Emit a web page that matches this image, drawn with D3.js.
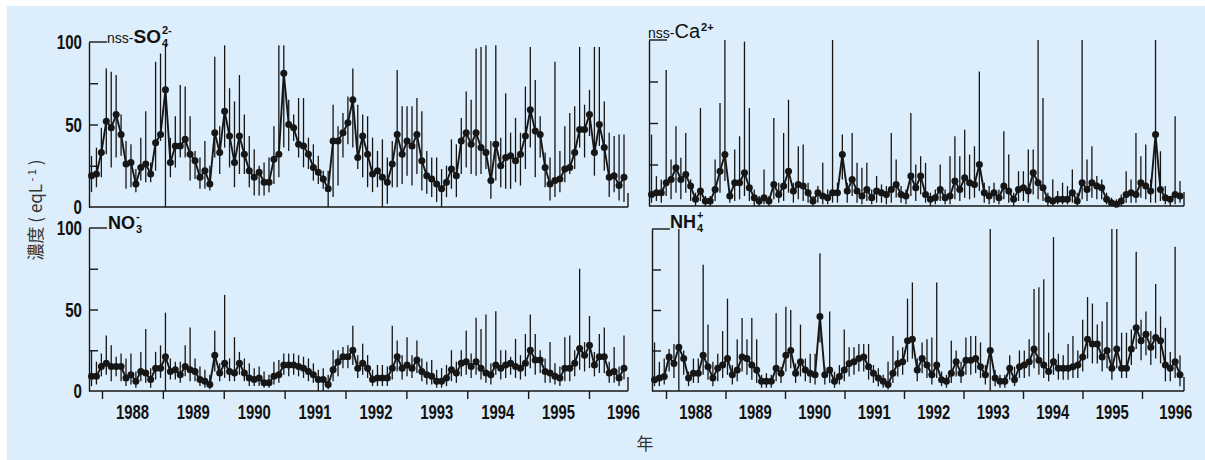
<!DOCTYPE html>
<html>
<head>
<meta charset="utf-8">
<script src="https://cdn.jsdelivr.net/npm/d3@7"></script>
<style>
  body { margin: 0; background: #fff; }
  .num { font-family: "Liberation Sans", Arial, sans-serif; font-weight: bold; fill: #111; }
  .ttl { font-family: "Liberation Sans", Arial, sans-serif; fill: #111; }
</style>
</head>
<body>
<svg id="chart" width="1205" height="460"></svg>
<script>
// year ticks and y ticks
const years = [1988, 1989, 1990, 1991, 1992, 1993, 1994, 1995, 1996]
const yTicks = [25, 50, 75]
const yLabels = [0, 50, 100]

// nss-SO4 2- : monthly mean, max, min
const so4Mean = [19,20,33,52,48,56,44,26,27,14, 24,26,20,39,44,71,27,37,37,41,
  32,28,18,22,14,45,33,58,43,27, 43,32,22,18,21,15,15,29,32,81,
  50,48,38,37,32,24,21,17,11,40, 40,45,51,65,30,43,32,20,22,18,
  15,26,44,32,40,37,44,28,19,17, 14,11,15,23,19,40,45,38,45,36,
  33,16,38,25,30,31,28,32,43,59, 46,44,24,14,16,17,23,24,33,47,
  47,56,33,50,36,18,19,13,18]
const so4Max = [31,36,48,84,82,80,56,40,38,23, 42,58,27,88,93,99,42,55,74,73,
  55,34,30,40,25,91,49,98,72,64, 80,56,43,35,25,27,30,49,98,98,
  65,56,66,66,42,38,31,22,22,62, 49,57,67,84,62,56,55,42,34,41,
  30,40,83,61,61,61,66,58,34,30, 30,23,25,41,38,54,70,65,96,97,
  98,40,98,42,69,45,54,45,73,97, 77,55,33,30,88,34,49,57,61,97,
  62,71,97,97,64,45,43,44,44]
const so4Min = [9,12,18,32,24,30,31,11,12,9, 16,15,15,22,40,0,18,24,30,30,
  16,17,11,11,10,30,20,36,24,12, 20,20,12,7,7,7,9,14,18,36,
  34,40,30,24,23,16,14,11,0,6, 13,30,38,36,23,18,12,9,12,0,
  2,12,12,14,19,13,20,10,8,6, 3,0,6,11,6,20,24,20,19,20,
  23,5,16,12,11,11,15,13,23,36, 18,30,12,4,6,9,15,20,23,36,
  30,43,19,37,22,6,9,4,3]

// nss-Ca 2+
const caMean = [7,8,8,14,16,23,16,19,12,4, 9,3,3,10,21,31,6,14,14,20,
  11,5,3,5,3,13,7,12,21,9, 13,12,8,3,8,6,5,8,8,31,
  9,16,9,6,10,5,9,8,7,10, 13,7,6,18,11,18,7,4,5,10,
  5,6,15,10,17,14,13,25,8,6, 8,5,12,9,4,10,11,9,20,14,
  11,4,3,4,4,4,8,3,14,10, 14,12,11,4,2,1,3,7,8,7,
  14,12,9,43,10,5,4,7,6]
const caMax = [43,18,16,82,28,48,29,44,16,8, 59,6,6,28,62,100,10,34,42,99,
  59,10,6,22,6,53,14,44,64,14, 36,37,14,6,12,26,10,100,14,43,
  14,44,26,23,26,10,18,13,12,44, 28,12,10,56,25,30,26,8,10,25,
  10,30,42,30,46,31,36,81,14,12, 14,10,45,31,8,21,21,34,34,100,
  65,8,16,9,14,12,22,8,100,28, 36,18,16,8,5,4,7,21,16,44,
  30,37,16,100,33,12,6,54,15]
const caMin = [2,3,2,6,4,8,4,8,3,0, 3,0,0,3,8,15,2,3,4,6,
  3,0,0,1,0,4,2,3,8,2, 4,3,2,0,2,1,1,2,2,16,
  2,6,2,1,3,1,2,2,1,2, 5,2,1,6,3,7,2,0,1,3,
  1,1,4,3,5,4,5,9,2,1, 2,1,4,2,0,3,3,2,7,4,
  3,0,0,1,1,1,2,0,4,3, 5,4,4,1,0,0,0,2,2,2,
  5,4,2,2,3,1,0,1,2]

// NO3 -
const no3Mean = [9,9,15,17,15,15,15,8,10,6, 12,11,7,14,14,21,12,13,10,15,
  13,12,7,6,4,22,11,17,12,11, 17,11,8,7,8,5,5,9,10,16,
  16,16,15,14,12,10,7,7,4,13, 18,21,21,25,14,17,14,7,8,8,
  8,14,21,14,16,14,19,12,10,9, 6,6,8,13,11,17,18,15,18,14,
  11,10,16,14,16,17,15,14,17,25, 19,19,12,11,9,8,14,14,17,26,
  22,28,16,21,21,11,12,8,14]
const no3Max = [25,18,23,34,28,21,23,20,23,12, 24,38,14,24,28,48,20,18,18,28,
  39,20,15,13,10,37,17,59,20,33, 24,20,17,14,15,12,10,18,19,23,
  23,23,22,21,20,17,13,14,10,25, 25,27,28,40,22,29,22,13,16,16,
  15,40,31,22,33,22,31,20,18,19, 13,14,16,25,18,25,37,23,45,38,
  47,17,49,25,25,21,32,22,35,47, 35,25,20,30,17,15,33,34,25,75,
  30,46,24,35,39,18,27,15,34]
const no3Min = [3,4,9,10,6,9,6,3,4,2, 6,5,2,7,8,0,7,7,5,9,
  6,6,3,2,1,12,6,8,6,6, 10,6,3,3,3,2,2,4,5,10,
  9,10,9,8,6,5,0,0,1,6, 9,14,14,16,8,10,8,3,3,3,
  3,7,12,7,9,8,11,6,4,4, 2,2,3,6,5,9,10,8,10,7,
  5,4,10,7,8,10,8,7,9,14, 10,11,5,5,4,3,6,6,9,13,
  12,14,9,11,11,5,5,3,7]

// NH4 +
const nh4Mean = [7,8,9,21,17,27,20,8,11,11, 22,15,8,14,16,20,10,13,21,20,
  16,13,6,6,6,14,11,22,25,11, 18,13,11,10,46,10,13,6,9,13,
  17,18,20,21,15,11,8,6,4,11, 17,18,31,32,13,20,16,10,16,7,
  6,11,18,11,19,19,20,15,10,25, 8,6,6,14,7,15,16,18,26,19,
  16,12,18,14,14,14,15,16,21,32, 29,29,21,25,14,26,14,14,26,39,
  31,35,27,33,31,16,14,18,10]
const nh4Max = [30,18,20,26,29,100,25,12,20,20, 78,41,18,23,37,57,16,32,45,32,
  45,32,10,11,10,48,15,52,50,17, 41,20,23,23,85,15,49,12,16,38,
  27,27,29,29,29,16,14,10,18,34, 25,27,57,67,20,30,32,33,67,12,
  10,31,25,18,33,34,34,30,16,100, 13,10,10,22,15,25,25,32,63,64,
  69,36,95,23,22,29,34,25,44,58, 54,41,43,55,100,100,36,36,38,86,
  44,49,37,66,46,39,24,89,22]
const nh4Min = [3,3,4,12,8,0,10,3,5,5, 10,7,3,6,8,10,4,6,12,10,
  7,5,2,2,2,6,5,12,14,5, 9,6,5,4,30,4,5,2,4,6,
  9,10,12,12,7,5,3,2,1,5, 9,10,18,20,6,11,8,4,8,3,
  2,5,9,5,10,10,11,8,4,0, 3,2,2,7,3,8,8,9,14,10,
  8,6,10,7,7,7,8,8,12,20, 17,17,12,14,7,14,8,8,16,26,
  19,22,16,20,17,6,6,8,3]

const ink = "#161616"
const svg = d3.select("#chart")

svg.append("rect")
  .attr("x", 7).attr("y", 6)
  .attr("width", 1198).attr("height", 454)
  .attr("fill", "#dcedfb")

const panels = [
  { mean: so4Mean, hi: so4Max, lo: so4Min, x0: 89, x1: 628, yb: 207, yt: 42, left: true, years: false },
  { mean: caMean, hi: caMax, lo: caMin, x0: 649, x1: 1184, yb: 206, yt: 40, left: false, years: false },
  { mean: no3Mean, hi: no3Max, lo: no3Min, x0: 89, x1: 628, yb: 391, yt: 228, left: true, years: true, yr: [102, 589] },
  { mean: nh4Mean, hi: nh4Max, lo: nh4Min, x0: 652, x1: 1184, yb: 391, yt: 229, left: false, years: true, yr: [666, 1142] }
]

function drawPanel(p) {
  let g = svg.append("g")
  let n = p.mean.length
  let x = d3.scaleLinear().domain([0, n - 1]).range([p.x0 + 2.5, p.x1 - 4])
  let y = d3.scaleLinear().domain([0, 100]).range([p.yb, p.yt])

  // left axis with inward ticks
  g.append("g")
    .attr("transform", `translate(${p.x0},0)`)
    .call(d3.axisRight(y).tickValues(yTicks).tickSize(9).tickSizeOuter(0).tickFormat(""))
    .call(a => a.selectAll("line, path").attr("stroke", ink).attr("stroke-width", 1.4))

  // bracket at the top, bottom line and small end mark
  g.append("line").attr("x1", p.x0).attr("x2", p.x0 + 18)
    .attr("y1", y(100)).attr("y2", y(100)).attr("stroke", ink).attr("stroke-width", 1.4)
  g.append("line").attr("x1", p.x0).attr("x2", p.x1)
    .attr("y1", y(0)).attr("y2", y(0)).attr("stroke", ink).attr("stroke-width", 1.6)
  g.append("line").attr("x1", p.x1).attr("x2", p.x1)
    .attr("y1", y(0)).attr("y2", y(0) - 14).attr("stroke", ink).attr("stroke-width", 1.4)

  if (p.left) {
    g.selectAll(".yl").data(yLabels).join("text")
      .attr("class", "num")
      .attr("x", p.x0 - 7).attr("y", d => y(d))
      .attr("text-anchor", "end").attr("dominant-baseline", "central")
      .attr("font-size", 20)
      .attr("textLength", d => String(d).length * 8.4)
      .attr("lengthAdjust", "spacingAndGlyphs")
      .text(d => d)
  }

  if (p.years) {
    let t = d3.scaleLinear().domain([1988, 1996]).range(p.yr)
    g.append("g")
      .attr("transform", `translate(0,${y(0)})`)
      .call(d3.axisBottom(t).tickValues(years).tickSize(8).tickFormat(""))
      .call(a => a.select(".domain").remove())
      .call(a => a.selectAll("line").attr("stroke", ink).attr("stroke-width", 1.4))
    g.selectAll(".yr").data(years).join("text")
      .attr("class", "num")
      .attr("x", d => t(d + 0.5) + (d === 1996 ? 4 : 0)).attr("y", y(0) + 28)
      .attr("text-anchor", "middle")
      .attr("font-size", 20)
      .attr("textLength", 33)
      .attr("lengthAdjust", "spacingAndGlyphs")
      .text(d => d)
  }

  // range bars
  g.selectAll(".bar").data(p.mean).join("line")
    .attr("x1", (d, i) => x(i)).attr("x2", (d, i) => x(i))
    .attr("y1", (d, i) => y(p.lo[i])).attr("y2", (d, i) => y(p.hi[i]))
    .attr("stroke", ink).attr("stroke-width", 1.3)

  g.append("path")
    .datum(p.mean)
    .attr("d", d3.line().x((d, i) => x(i)).y(d => y(d)))
    .attr("fill", "none").attr("stroke", ink).attr("stroke-width", 1.9)

  g.selectAll(".pt").data(p.mean).join("circle")
    .attr("cx", (d, i) => x(i)).attr("cy", d => y(d))
    .attr("r", 3.5).attr("fill", ink)
}

panels.forEach(drawPanel)

// panel titles: main text, then stacked subscript / superscript as their own texts
function title(xp, yp, main, sub, sup) {
  let t = svg.append("text").attr("class", "ttl").attr("x", xp).attr("y", yp)
  main.forEach(s => {
    t.append("tspan")
      .attr("font-size", s.size).attr("font-weight", s.bold ? "bold" : "normal")
      .text(s.t)
  })
  let w = t.node().getComputedTextLength()
  if (sub) {
    svg.append("text").attr("class", "ttl")
      .attr("x", xp + w + 1).attr("y", yp + 4)
      .attr("font-size", 11).attr("font-weight", "bold").text(sub)
  }
  if (sup) {
    svg.append("text").attr("class", "ttl")
      .attr("x", xp + w + 1).attr("y", yp - (sub ? 9 : 7))
      .attr("font-size", 11).attr("font-weight", "bold").text(sup)
  }
}
title(107, 43, [{ t: "nss-", size: 14 }, { t: "SO", size: 19, bold: true }], "4", "2-")
title(648, 38, [{ t: "nss-", size: 14 }, { t: "Ca", size: 20 }], null, "2+")
title(108, 229, [{ t: "NO", size: 18, bold: true }], "3", "-")
title(670, 228, [{ t: "NH", size: 18, bold: true }], "4", "+")

// axis titles
let yt = svg.append("text")
  .attr("transform", "translate(42,210) rotate(-90)")
  .attr("text-anchor", "middle")
  .attr("font-family", "'Noto Sans CJK JP', sans-serif")
  .attr("font-size", 17).attr("fill", "#333")
yt.append("tspan").text("濃度 ( eqL")
yt.append("tspan").attr("font-size", 11).attr("dy", -6).text(" - 1")
yt.append("tspan").attr("dy", 6).text(" )")

svg.append("text")
  .attr("x", 645).attr("y", 450)
  .attr("text-anchor", "middle")
  .attr("font-family", "'Noto Sans CJK JP', sans-serif")
  .attr("font-size", 17).attr("fill", "#333")
  .text("年")
</script>
</body>
</html>
